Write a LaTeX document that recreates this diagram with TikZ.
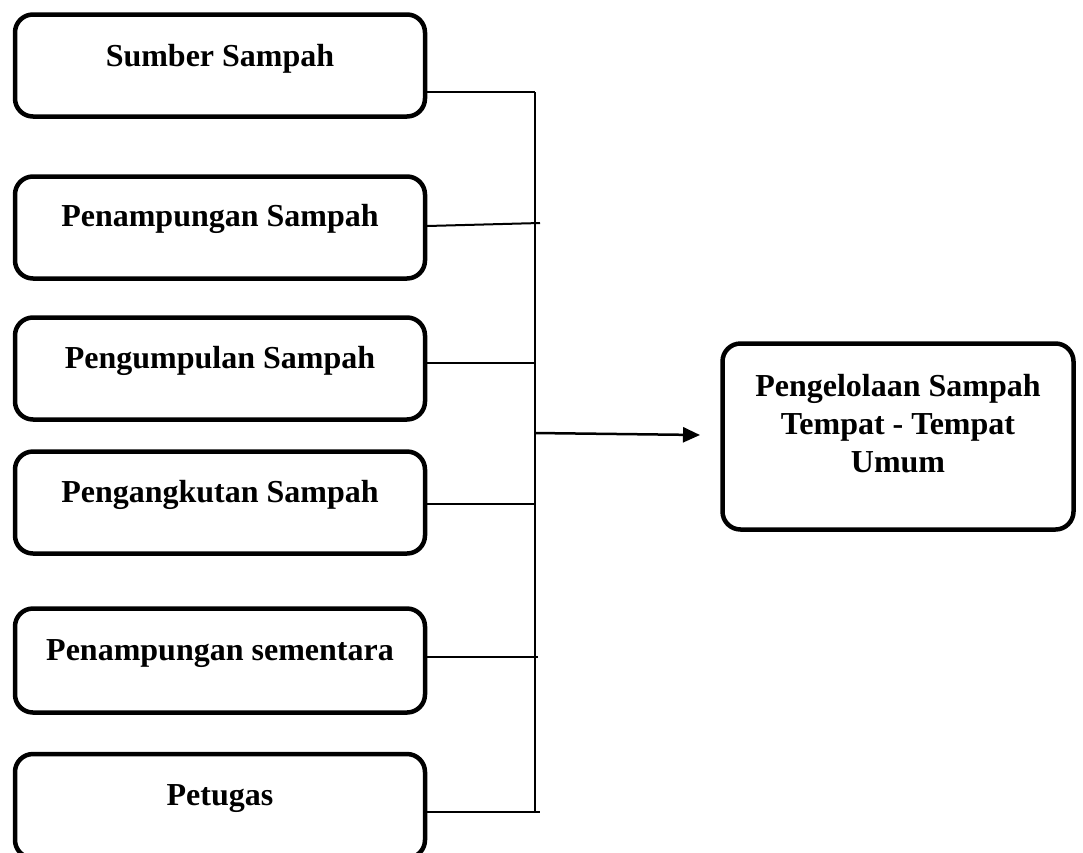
\documentclass[tikz,border=0pt]{standalone}
\usepackage{fontspec}
\setmainfont{Liberation Serif}
\usetikzlibrary{arrows.meta}
\begin{document}
\begin{tikzpicture}[x=1pt,y=-1pt,
  box/.style={draw=black, line width=4.5pt, rounded corners=18pt, minimum width=410pt, inner sep=0pt},
  lbl/.style={font=\bfseries\fontsize{32}{38}\selectfont, inner sep=0pt, anchor=base},
  conn/.style={draw=black, line width=2pt},
  arr/.style={draw=black, line width=2.5pt, -{Triangle[length=17pt,width=15pt]}}]
\useasboundingbox (0,0) rectangle (1083,852);
% left boxes
\node[box, minimum height=102pt] (b1) at (220,65.5) {};
\node[box, minimum height=102pt] (b2) at (220,227.5) {};
\node[box, minimum height=102pt] (b3) at (220,368.5) {};
\node[box, minimum height=102pt] (b4) at (220,502.5) {};
\node[box, minimum height=104pt] (b5) at (220,660.5) {};
\node[box, minimum height=104pt] (b6) at (220,806) {};
\node[lbl] (t1) at (220,66) {Sumber Sampah};
\node[lbl] (t2) at (220,226) {Penampungan Sampah};
\node[lbl] (t3) at (220,368) {Pengumpulan Sampah};
\node[lbl] (t4) at (220,502) {Pengangkutan Sampah};
\node[lbl] (t5) at (220,660) {Penampungan sementara};
\node[lbl] (t6) at (220,805) {Petugas};
% right box
\node[box, minimum width=351pt, minimum height=186pt] (r) at (898,436.5) {};
\node[font=\bfseries\fontsize{32}{38}\selectfont, align=center, inner sep=0pt, anchor=north] (rt) at (898,374) {Pengelolaan Sampah\\Tempat - Tempat\\Umum};
% junction coordinates
\coordinate (j1) at (535,92);
\coordinate (j2) at (540,223);
\coordinate (j3) at (535,363);
\coordinate (j4) at (535,504);
\coordinate (j5) at (538,657);
\coordinate (j6) at (540,812);
\coordinate (top) at (535,92);
\coordinate (bot) at (535,812);
\coordinate (ja) at (535,433);
% connectors
\draw[conn] (b1.east |- j1) -- (j1);
\draw[conn] (427,226) -- (j2);
\draw[conn] (b3.east |- j3) -- (j3);
\draw[conn] (b4.east |- j4) -- (j4);
\draw[conn] (b5.east |- j5) -- (j5);
\draw[conn] (b6.east |- j6) -- (j6);
\draw[conn] (top) -- (bot);
\draw[arr] (ja) -- (700,435);
\end{tikzpicture}
\end{document}
